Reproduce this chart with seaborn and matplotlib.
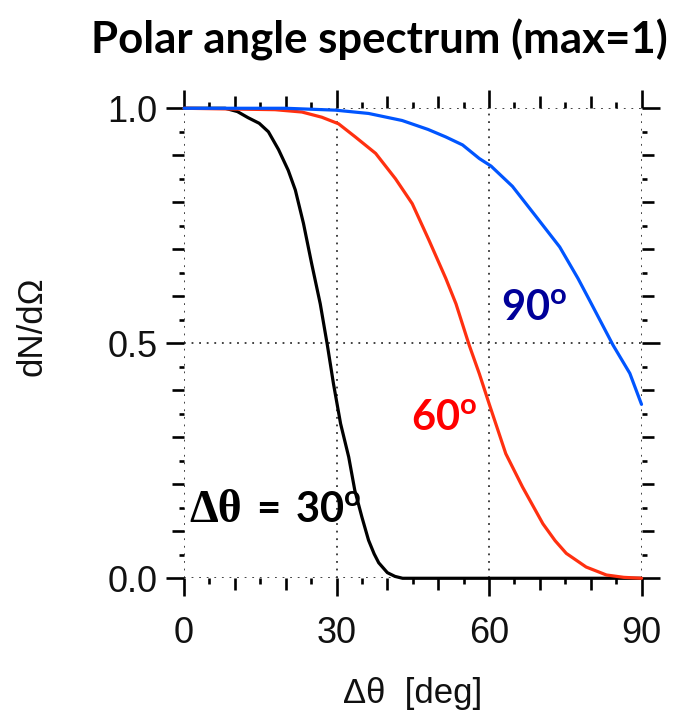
import matplotlib
matplotlib.use("Agg")
import matplotlib.pyplot as plt
import pandas as pd
import seaborn as sns

# Polar angle spectra dN/dOmega (normalised to max = 1) for three angular spreads
spread_labels = ["30", "60", "90"]

theta_30 = [0, 8.1, 10.5, 12.6, 14.8, 16.6, 18.6, 20.5, 21.9, 23.5, 25.1, 26.8, 28.2, 29.4,
            30.8, 32.4, 33.6, 35.0, 36.3, 37.4, 38.3, 40.0, 41.5, 43.0, 90]
dnd_30 = [1.0, 1.0, 0.993, 0.98, 0.968, 0.95, 0.912, 0.868, 0.826, 0.755, 0.670, 0.584, 0.496, 0.414,
          0.329, 0.258, 0.187, 0.13, 0.081, 0.052, 0.033, 0.012, 0.004, 0.0, 0.0]

theta_60 = [0, 17.9, 23.2, 27.1, 30.4, 33.7, 37.7, 41.6, 44.9, 48.2, 51.5, 53.5,
            56.1, 58.1, 60.0, 63.3, 66.6, 70.6, 73.0, 75.2, 79.1, 83.1, 86.5, 90]
dnd_60 = [1.0, 0.997, 0.992, 0.981, 0.967, 0.939, 0.904, 0.85, 0.797, 0.719, 0.638, 0.584,
          0.496, 0.435, 0.372, 0.265, 0.194, 0.116, 0.08, 0.053, 0.024, 0.007, 0.002, 0.0]

theta_90 = [0, 20, 29.8, 36.3, 42.9, 48.0, 51.5, 54.8, 58.1, 60.4, 64.6, 69.3,
            73.9, 77.5, 79.8, 84.4, 87.7, 90]
dnd_90 = [1.0, 1.0, 0.996, 0.989, 0.974, 0.955, 0.939, 0.922, 0.893, 0.877, 0.834, 0.769,
          0.705, 0.638, 0.591, 0.496, 0.436, 0.37]

x_major = [0, 30, 60, 90]
x_mid = [10, 20, 40, 50, 70, 80]
x_short = [5, 15, 25, 35, 45, 55, 65, 75, 85]
y_major = [0.0, 0.5, 1.0]
y_mid = [0.1, 0.2, 0.3, 0.4, 0.6, 0.7, 0.8, 0.9]
y_short = [0.05, 0.15, 0.25, 0.35, 0.45, 0.55, 0.65, 0.75, 0.85, 0.95]

df = pd.concat([
    pd.DataFrame({"theta": theta_30, "dnd": dnd_30, "spread": spread_labels[0]}),
    pd.DataFrame({"theta": theta_60, "dnd": dnd_60, "spread": spread_labels[1]}),
    pd.DataFrame({"theta": theta_90, "dnd": dnd_90, "spread": spread_labels[2]}),
], ignore_index=True)

line_colors = {"30": "#000000", "60": "#ff3010", "90": "#0055ff"}

sns.set_theme(style="white")
plt.rcParams["font.family"] = ["Liberation Sans", "DejaVu Sans"]
plt.rcParams["mathtext.fontset"] = "custom"
plt.rcParams["mathtext.rm"] = "Liberation Serif"
plt.rcParams["mathtext.bf"] = "Lato:bold"

fig = plt.figure(figsize=(6.79, 7.18), dpi=100)
ax = fig.add_axes([0.271, 0.1946, 0.9448 - 0.271, 0.8492 - 0.1946])

for key in spread_labels:
    sns.lineplot(data=df[df["spread"] == key], x="theta", y="dnd", ax=ax,
                 color=line_colors[key], linewidth=2.3, estimator=None,
                 sort=False, legend=False, clip_on=False, zorder=3)

ax.set_xlim(0, 90)
ax.set_ylim(0, 1)
for s in ax.spines.values():
    s.set_visible(False)

tick_w = 1.9
ax.set_xticks(x_major)
ax.set_xticks(x_mid, minor=True)
ax.set_yticks(y_major)
ax.set_yticks(y_mid, minor=True)
ax.set_xticklabels([str(v) for v in x_major])
ax.set_yticklabels([f"{v:.1f}" for v in y_major])
ax.tick_params(which="major", direction="out", length=13, width=tick_w, color="black",
               bottom=True, top=True, left=True, right=True, labelsize=26,
               labelcolor="#111111")
ax.tick_params(axis="x", which="major", pad=14)
ax.tick_params(axis="y", which="major", pad=6)
ax.tick_params(which="minor", direction="out", length=8.5, width=tick_w, color="black",
               bottom=True, top=True, left=True, right=True)

# shortest ticks at the half-steps
for side in ("bottom", "top"):
    sec = ax.secondary_xaxis(side)
    sec.set_xticks(x_short)
    sec.tick_params(direction="out", length=4.5, width=tick_w, color="black",
                    labelbottom=False, labeltop=False)
    for s in sec.spines.values():
        s.set_visible(False)
for side in ("left", "right"):
    sec = ax.secondary_yaxis(side)
    sec.set_yticks(y_short)
    sec.tick_params(direction="out", length=3.5, width=tick_w, color="black",
                    labelleft=False, labelright=False)
    for s in sec.spines.values():
        s.set_visible(False)

ax.grid(True, which="major", linestyle=(0, (1, 3.2)), color="#333333", linewidth=1.3)

ax.set_xlabel("Δθ  [deg]", fontsize=25, color="#111111", labelpad=19)
ax.set_ylabel("")
fig.text(0.047, 0.546, "dN/dΩ", rotation=90, ha="center", va="center",
         fontsize=25, color="#111111")

fig.text(0.558, 0.944, "Polar angle spectrum (max=1)", ha="center", va="center",
         fontsize=31.5, fontweight="bold", family="Lato", color="black")

# curve labels
ax.text(1.1, 0.12, "Δθ", fontsize=33, family="Liberation Serif", fontweight="bold",
        color="black", ha="left", va="baseline", zorder=4)
ax.text(12.6, 0.12, r"$\mathbf{=\,30^{o}}$", fontsize=30,
        color="black", ha="left", va="baseline", zorder=4)
ax.text(44.6, 0.316, r"$\mathbf{60^{o}}$", fontsize=30, color="#ff0000",
        ha="left", va="baseline", zorder=4)
ax.text(62.4, 0.55, r"$\mathbf{90^{o}}$", fontsize=30, color="#000099",
        ha="left", va="baseline", zorder=4)

fig.savefig("out.png", dpi=100, facecolor="white")
